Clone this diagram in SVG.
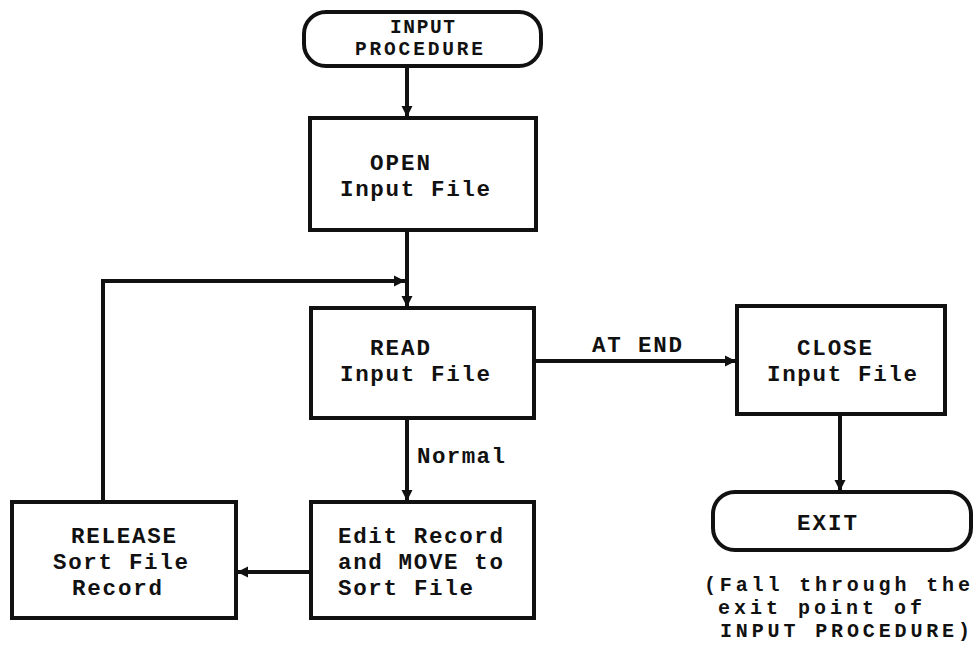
<svg xmlns="http://www.w3.org/2000/svg" width="973" height="649" viewBox="0 0 973 649">
<style>
.box{fill:#fff;stroke:#111;stroke-width:4}
.t{font-family:"Liberation Mono","DejaVu Sans Mono",monospace;font-weight:bold;font-size:22.5px;fill:#111}
.s{font-size:20px}
.h{font-size:19.5px}
.c{fill:none;stroke:#111;stroke-width:4}
</style>
<defs>
<marker id="ah" viewBox="0 0 10 10" refX="10" refY="5" markerWidth="11" markerHeight="16" markerUnits="userSpaceOnUse" orient="auto">
<path d="M0,0 L10,5 L0,10 z" fill="#111"/>
</marker>
</defs>
<rect width="973" height="649" fill="#fff"/>
<g id="connectors">
<line class="c" x1="407" y1="66" x2="407" y2="117" marker-end="url(#ah)"/>
<line class="c" x1="407" y1="230" x2="407" y2="307" marker-end="url(#ah)"/>
<polyline class="c" points="103,502 103,281 405,281" marker-end="url(#ah)"/>
<line class="c" x1="407" y1="418" x2="407" y2="501" marker-end="url(#ah)"/>
<text class="t" x="417" y="463" textLength="88">Normal</text>
<line class="c" x1="534" y1="361" x2="736" y2="361" marker-end="url(#ah)"/>
<text class="t" x="592" y="352" textLength="90">AT END</text>
<line class="c" x1="311" y1="572" x2="237" y2="572" marker-end="url(#ah)"/>
<line class="c" x1="840" y1="414" x2="840" y2="491" marker-end="url(#ah)"/>
</g>
<g id="start">
<rect class="box" x="304" y="12" width="237" height="54" rx="22"/>
<text class="t h" x="390" y="33" textLength="65">INPUT</text>
<text class="t h" x="355" y="55" textLength="128">PROCEDURE</text>
</g>
<g id="open">
<rect class="box" x="310" y="118" width="226" height="112"/>
<text class="t" x="370" y="170" textLength="60">OPEN</text>
<text class="t" x="340" y="196" textLength="150">Input File</text>
</g>
<g id="read">
<rect class="box" x="311" y="308" width="223" height="110"/>
<text class="t" x="370" y="355" textLength="60">READ</text>
<text class="t" x="340" y="381" textLength="150">Input File</text>
</g>
<g id="close">
<rect class="box" x="737" y="306" width="208" height="108"/>
<text class="t" x="797" y="355" textLength="75">CLOSE</text>
<text class="t" x="767" y="381" textLength="150">Input File</text>
</g>
<g id="edit">
<rect class="box" x="311" y="502" width="223" height="116"/>
<text class="t" x="338" y="543" textLength="165">Edit Record</text>
<text class="t" x="338" y="569" textLength="165">and MOVE to</text>
<text class="t" x="338" y="595" textLength="135">Sort File</text>
</g>
<g id="release">
<rect class="box" x="12" y="502" width="224" height="116"/>
<text class="t" x="71" y="543" textLength="105">RELEASE</text>
<text class="t" x="53" y="569" textLength="135">Sort File</text>
<text class="t" x="72" y="595" textLength="90">Record</text>
</g>
<g id="exit">
<rect class="box" x="713" y="492" width="258" height="58" rx="22"/>
<text class="t" x="797" y="530" textLength="60">EXIT</text>
</g>
<g id="note">
<text class="t s" x="704" y="591" textLength="266">(Fall through the</text>
<text class="t s" x="718" y="614" textLength="204">exit point of</text>
<text class="t s" x="720" y="637" textLength="250">INPUT PROCEDURE)</text>
</g>
</svg>
